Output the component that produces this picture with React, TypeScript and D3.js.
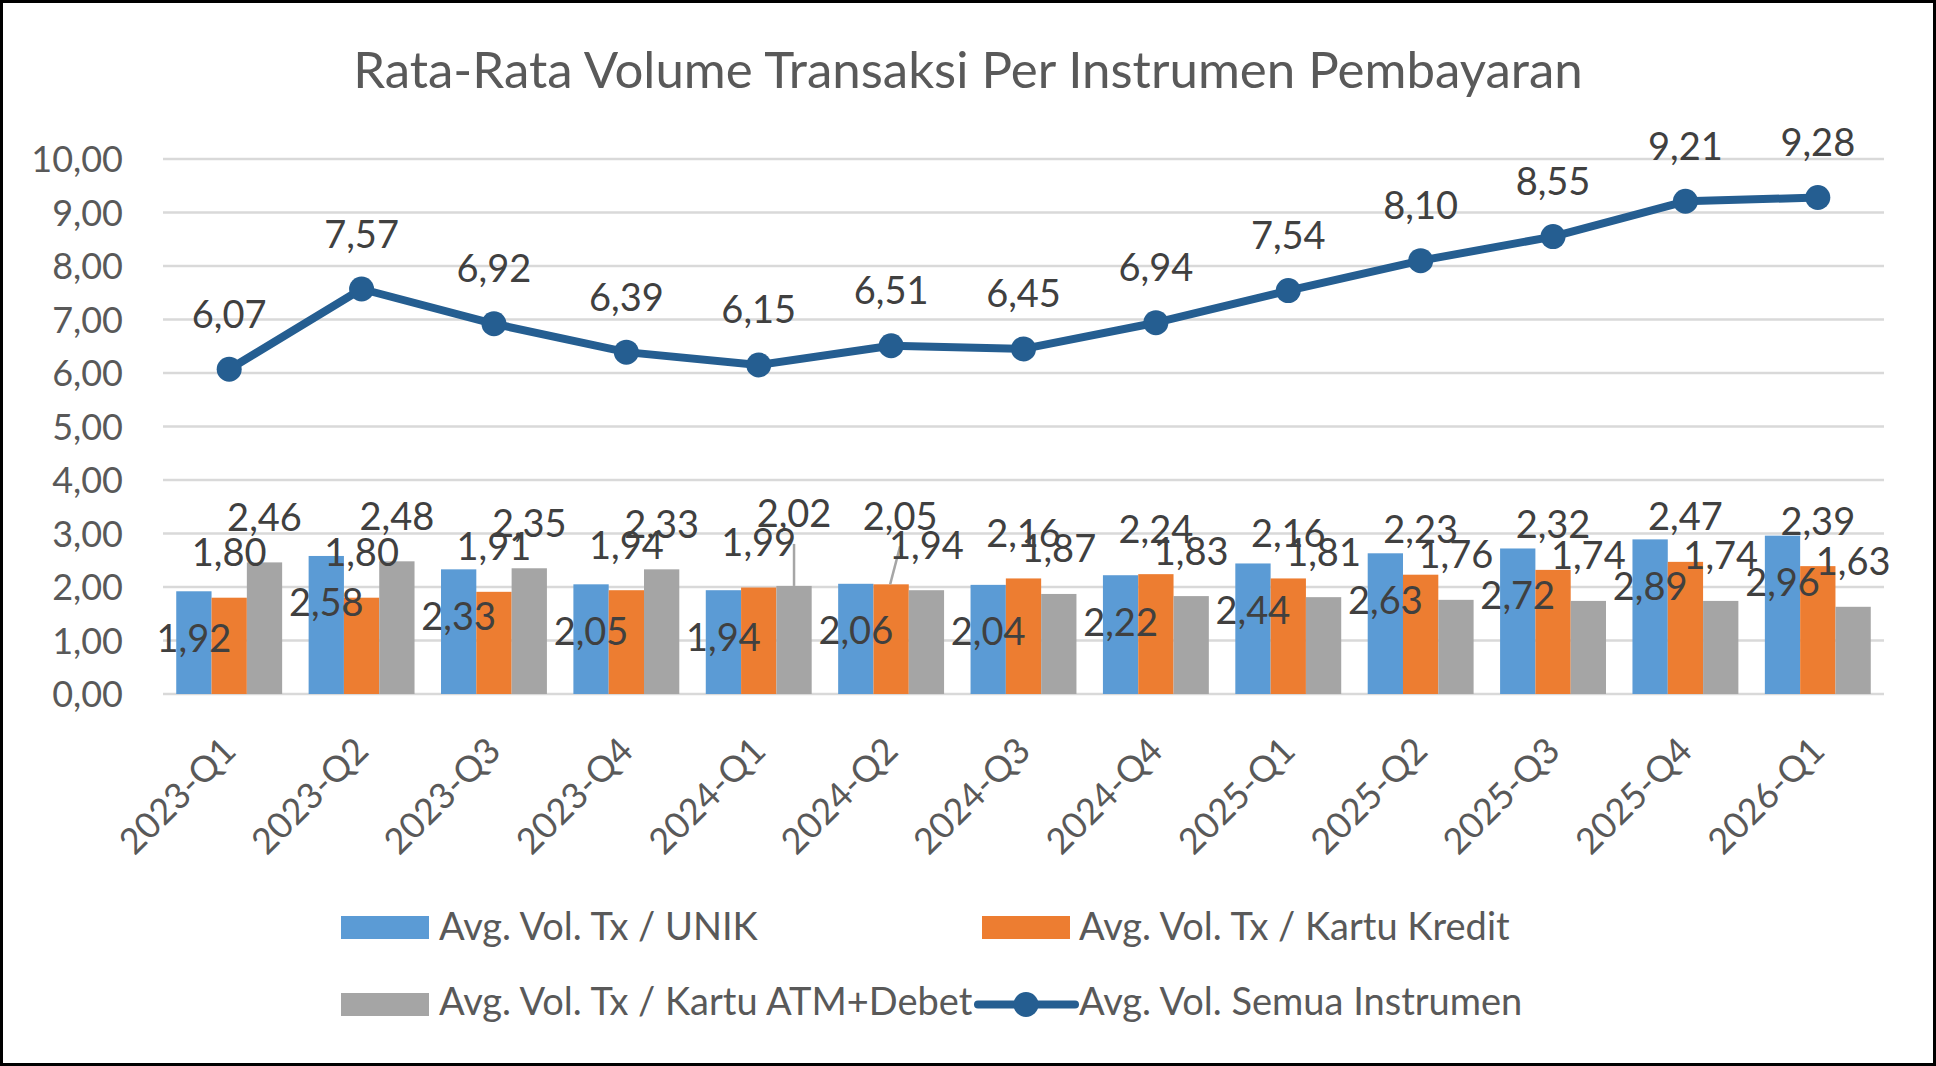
// @ts-nocheck
import React from 'react'
import * as d3 from 'd3'

const categories = [
  '2023-Q1', '2023-Q2', '2023-Q3', '2023-Q4',
  '2024-Q1', '2024-Q2', '2024-Q3', '2024-Q4',
  '2025-Q1', '2025-Q2', '2025-Q3', '2025-Q4',
  '2026-Q1',
]
const unik = [1.92, 2.58, 2.33, 2.05, 1.94, 2.06, 2.04, 2.22, 2.44, 2.63, 2.72, 2.89, 2.96]
const kartuKredit = [1.8, 1.8, 1.91, 1.94, 1.99, 2.05, 2.16, 2.24, 2.16, 2.23, 2.32, 2.47, 2.39]
const atmDebet = [2.46, 2.48, 2.35, 2.33, 2.02, 1.94, 1.87, 1.83, 1.81, 1.76, 1.74, 1.74, 1.63]
const semua = [6.07, 7.57, 6.92, 6.39, 6.15, 6.51, 6.45, 6.94, 7.54, 8.1, 8.55, 9.21, 9.28]
const yTicks = [0, 1, 2, 3, 4, 5, 6, 7, 8, 9, 10]

const seriesNames = [
  'Avg. Vol. Tx / UNIK',
  'Avg. Vol. Tx / Kartu Kredit',
  'Avg. Vol. Tx / Kartu ATM+Debet',
  'Avg. Vol. Semua Instrumen',
]

// labels that were dragged away from their bar (series index, category index, shift)
const movedLabels = [
  { s: 2, i: 4, dx: 0, dy: -27 },
  { s: 1, i: 5, dx: 9, dy: -23 },
]

const W = 1936
const H = 1066
const FONT = 'Lato, "Open Sans", sans-serif'
const colors = ['#5B9BD5', '#ED7D31', '#A5A5A5']
const lineColor = '#255E91'
const fmt = (v) => d3.format('.2f')(v).replace('.', ',')

const App = () => {
  const bars = [unik, kartuKredit, atmDebet]

  const x = d3.scaleBand().domain(categories).range([163, 1884]).padding(0)
  const x1 = d3
    .scaleBand()
    .domain([0, 1, 2])
    .range([0, x.bandwidth()])
    .paddingInner(0)
    .paddingOuter(0.375)
  const y = d3.scaleLinear().domain([0, 10]).range([694, 159])
  const cx = (c) => x(c) + x.bandwidth() / 2

  const line = d3
    .line()
    .x((d, i) => cx(categories[i]))
    .y((d) => y(d))

  const labelFor = (s, i, v) => {
    const bx = x(categories[i]) + x1(s) + x1.bandwidth() / 2
    const top = y(v)
    // blue labels sit inside the bar, the others above it
    let ly = s === 0 ? top + 47 : top - 45
    let lx = bx
    const m = movedLabels.find((d) => d.s === s && d.i === i)
    if (m) {
      lx += m.dx
      ly += m.dy
    }
    return { bx, top, lx, ly, moved: !!m }
  }

  return (
    <div style={{ position: 'absolute', left: 0, top: 0 }}>
      <svg width={W} height={H} style={{ display: 'block', background: '#fff' }}>
        <rect x={1.5} y={1.5} width={W - 3} height={H - 3} fill="#fff" stroke="#000" strokeWidth={3} />

        <text
          x={968}
          y={88}
          textAnchor="middle"
          fontFamily={FONT}
          fontSize={51}
          fill="#595959"
        >
          Rata-Rata Volume Transaksi Per Instrumen Pembayaran
        </text>

        {/* grid and y axis */}
        <g>
          {yTicks.map((t) => (
            <g key={t}>
              <line x1={163} x2={1884} y1={y(t)} y2={y(t)} stroke="#D9D9D9" strokeWidth={2.5} />
              <text
                x={123}
                y={y(t) + 13}
                textAnchor="end"
                fontFamily={FONT}
                fontSize={36}
                fill="#595959"
              >
                {fmt(t)}
              </text>
            </g>
          ))}
        </g>

        {/* bars */}
        <g>
          {bars.map((vals, s) =>
            vals.map((v, i) => (
              <rect
                key={`${s}-${i}`}
                x={x(categories[i]) + x1(s)}
                y={y(v)}
                width={x1.bandwidth()}
                height={y(0) - y(v)}
                fill={colors[s]}
              />
            )),
          )}
        </g>

        {/* leader lines */}
        <g>
          {bars.map((vals, s) =>
            vals.map((v, i) => {
              const l = labelFor(s, i, v)
              if (!l.moved) return null
              return (
                <line
                  key={`ll-${s}-${i}`}
                  x1={l.bx - (l.lx - l.bx === 0 ? 0 : 1)}
                  y1={l.top}
                  x2={l.lx}
                  y2={l.ly + 30}
                  stroke="#A6A6A6"
                  strokeWidth={2.5}
                />
              )
            }),
          )}
        </g>

        {/* bar labels */}
        <g fontFamily={FONT} fontSize={38} fill="#404040" textAnchor="middle">
          {bars.map((vals, s) =>
            vals.map((v, i) => {
              const l = labelFor(s, i, v)
              return (
                <text key={`bl-${s}-${i}`} x={l.lx} y={l.ly + 13.5}>
                  {fmt(v)}
                </text>
              )
            }),
          )}
        </g>

        {/* total line */}
        <path d={line(semua)} fill="none" stroke={lineColor} strokeWidth={8} strokeLinejoin="round" />
        {semua.map((v, i) => (
          <circle key={`m-${i}`} cx={cx(categories[i])} cy={y(v)} r={12.5} fill={lineColor} />
        ))}
        <g fontFamily={FONT} fontSize={38} fill="#404040" textAnchor="middle">
          {semua.map((v, i) => (
            <text key={`ml-${i}`} x={cx(categories[i])} y={y(v) - 55 + 13.5}>
              {fmt(v)}
            </text>
          ))}
        </g>

        {/* x axis labels */}
        <g fontFamily={FONT} fontSize={36} fill="#595959">
          {categories.map((c) => (
            <text
              key={c}
              transform={`translate(${cx(c)},744) rotate(-45)`}
              textAnchor="end"
              dy="0.35em"
            >
              {c}
            </text>
          ))}
        </g>

        {/* legend */}
        <g fontFamily={FONT} fontSize={38} fill="#595959">
          <rect x={341} y={916} width={88} height={23} fill={colors[0]} />
          <text x={439} y={940}>{seriesNames[0]}</text>
          <rect x={982} y={916} width={88} height={23} fill={colors[1]} />
          <text x={1079} y={940}>{seriesNames[1]}</text>
          <rect x={341} y={993} width={88} height={23} fill={colors[2]} />
          <text x={439} y={1015}>{seriesNames[2]}</text>
          <line x1={978} x2={1075} y1={1004.5} y2={1004.5} stroke={lineColor} strokeWidth={8} strokeLinecap="round" />
          <circle cx={1026} cy={1004.5} r={12.5} fill={lineColor} />
          <text x={1079} y={1015}>{seriesNames[3]}</text>
        </g>
      </svg>
    </div>
  )
}

export default App
